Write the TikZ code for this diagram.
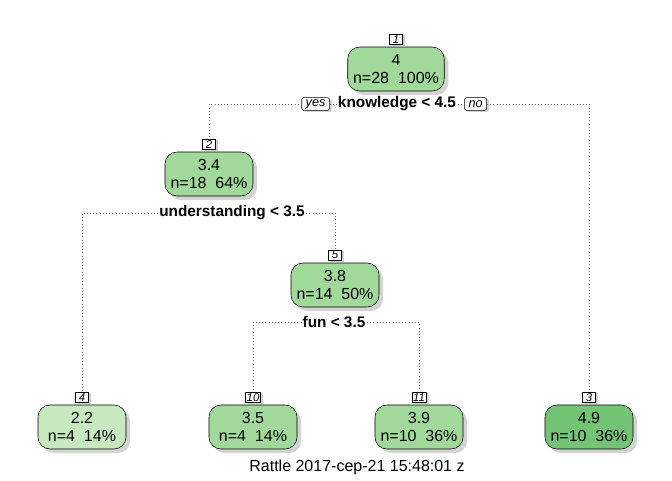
\documentclass[tikz,border=0pt]{standalone}
\usepackage{fontspec}
\setmainfont{Liberation Sans}
\usetikzlibrary{positioning, shadows}

\definecolor{palegreen}{HTML}{C7E9C0}
\definecolor{midgreen}{HTML}{A1D99B}
\definecolor{darkgreen}{HTML}{74C476}

\begin{document}
\begin{tikzpicture}[x=0.75pt,y=-0.75pt,node distance=1.5pt,font=\fontsize{12}{14}\selectfont]
  \tikzstyle{leaf}=[draw=black,fill=midgreen,rounded corners=9pt,align=center,minimum width=66pt,minimum height=33pt,inner xsep=4pt,inner ysep=1pt,drop shadow={shadow xshift=3pt,shadow yshift=-3pt,opacity=.35}]
  \tikzstyle{tag}=[draw=black,fill=white,font=\fontsize{8.5}{9}\selectfont\itshape,inner sep=1pt,minimum width=9.5pt,minimum height=8pt,drop shadow={shadow xshift=1.8pt,shadow yshift=-1.2pt,opacity=.35}]
  \tikzstyle{side}=[tag,rounded corners=1.5pt,inner xsep=3pt,minimum height=9.5pt,font=\fontsize{9.5}{10}\selectfont\itshape]
  \tikzstyle{rule}=[font=\fontsize{11.5}{14}\selectfont\bfseries,inner sep=1pt]
  \tikzstyle{link}=[dotted,draw=black!60,thin]

  \useasboundingbox (0,0) rectangle (672,480);

  \node[leaf] (n1) at (396,69) {4\\n=28\ \ 100\%};
  \node[leaf] (n2) at (209,174) {3.4\\n=18\ \ 64\%};
  \node[leaf] (n5) at (335,285) {3.8\\n=14\ \ 50\%};
  \node[leaf, fill=palegreen] (n4) at (82,427) {2.2\\n=4\ \ 14\%};
  \node[leaf] (n10) at (253,427) {3.5\\n=4\ \ 14\%};
  \node[leaf] (n11) at (419,427) {3.9\\n=10\ \ 36\%};
  \node[leaf, fill=darkgreen] (n3) at (589,427) {4.9\\n=10\ \ 36\%};

  \node[tag] (t1) [above=of n1] {1};
  \node[tag] (t2) [above=of n2] {2};
  \node[tag] (t5) [above=of n5] {5};
  \node[tag] (t4) [above=of n4] {4};
  \node[tag] (t10) [above=of n10] {10};
  \node[tag] (t11) [above=of n11] {11};
  \node[tag] (t3) [above=of n3] {3};

  \node[rule] (s1) at (397,104) {knowledge < 4.5};
  \node[side] (yes) [left=5pt of s1] {yes};
  \node[side] (no) [right=5pt of s1] {no};
  \node[rule] (s2) at (232,213) {understanding < 3.5};
  \node[rule] (s5) at (334,322) {fun < 3.5};

  \draw[link] (yes.west) -| (t2.north);
  \draw[link] (yes.east) -- (s1.west);
  \draw[link] (s1.east) -- (no.west);
  \draw[link] (no.east) -| (t3.north);
  \draw[link] (s2.west) -| (t4.north);
  \draw[link] (s2.east) -| (t5.north);
  \draw[link] (s5.west) -| (t10.north);
  \draw[link] (s5.east) -| (t11.north);

  \node (foot) at (357,467) {Rattle 2017-cep-21 15:48:01 z};
\end{tikzpicture}
\end{document}
